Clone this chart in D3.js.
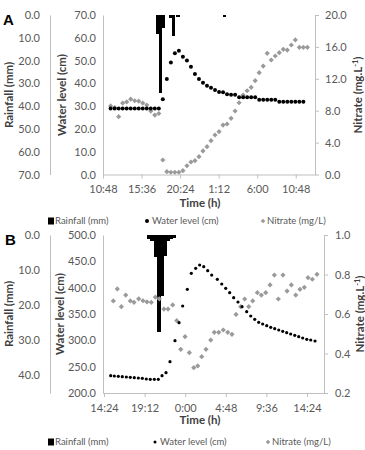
<!DOCTYPE html>
<html><head><meta charset="utf-8">
<script src="https://cdn.jsdelivr.net/npm/d3@7"></script>
<style>body{margin:0;background:#fff}svg{display:block}</style>
</head><body>
<svg id="c" width="365" height="450"></svg>
<script>
// ---------- Panel A data (time in hours from midnight of day 1) ----------
const aWaterTime = [11.75,12.25,12.75,13.25,13.75,14.25,14.75,15.25,15.75,16.25,16.75,17.25,17.75,
  18.25,18.75,19.25,19.75,20.25,20.75,21.25,21.75,22.25,22.75,23.25,23.75,24.25,24.75,25.25,25.75,
  26.25,26.75,27.25,27.75,28.25,28.75,29.25,29.75,30.25,30.75,31.25,31.75,32.25,32.75,33.25,33.75,
  34.25,34.75,35.25,35.75];
const aWaterLevel = [29.0,29.0,29.0,29.0,29.0,29.0,29.0,29.0,29.0,29.0,29.0,29.0,29.0,
  33.0,41.9,49.1,53.2,54.3,51.7,50.0,47.3,44.1,41.9,40.3,38.9,38.1,37.1,36.2,36.1,
  35.2,35.0,35.0,33.9,33.9,33.9,33.9,33.9,32.8,32.8,32.8,32.8,32.8,31.9,31.9,31.9,
  31.9,31.9,31.9,31.9];
const aNitrateTime = [11.75,12.25,12.75,13.25,13.75,14.25,14.75,15.25,15.75,16.25,16.75,17.25,17.75,
  18.25,18.75,19.25,19.75,20.25,20.75,21.25,21.75,22.25,22.75,23.25,23.75,24.25,24.75,25.25,25.75,
  26.25,26.75,27.25,27.75,28.25,28.75,29.25,29.75,30.25,30.75,31.25,31.75,32.25,32.75,33.25,33.75,
  34.25,34.75,35.25,35.75,36.25];
const aNitrate = [8.6,8.4,7.25,8.95,9.1,9.45,9.25,9.2,8.95,8.7,7.95,7.45,7.65,
  1.82,0.35,0.28,0.28,0.28,0.48,1.1,1.57,1.73,2.23,2.95,3.49,4.24,4.95,5.37,6.2,
  6.33,7.05,7.96,9.0,9.97,10.5,10.93,11.76,12.77,13.6,15.2,14.36,14.86,15.27,15.7,15.6,
  16.24,16.87,15.95,15.95,15.95];
const aRainTime = [17.59,17.97,18.35,19.27,19.59,20.14,25.91];
const aRain = [8.5,34.3,5.5,1.5,9.0,0.7,0.7];
const aTimeTicks = [10.8,15.6,20.4,25.2,30.0,34.8];
const aTimeLabels = ["10:48","15:36","20:24","1:12","6:00","10:48"];
const aRainTicks = [0,10,20,30,40,50,60,70];
const aWaterTicks = [0,10,20,30,40,50,60,70];
const aNitrateTicks = [0,4,8,12,16,20];

// ---------- Panel B data ----------
const bWaterTime = [15.19,15.62,16.09,16.56,17.04,17.51,17.98,18.46,18.93,19.40,19.87,20.35,20.82,
  21.26,21.73,22.20,22.79,23.27,23.70,24.25,24.72,25.24,25.71,26.19,26.66,27.13,
  27.80,28.32,28.79,29.26,29.73,30.24,30.72,31.27,31.75,32.22,32.69,33.16,33.64,34.11,
  34.58,35.06,35.53,36.00,36.47,36.95,37.42,37.89,38.37,38.84,39.35];
const bWaterLevel = [232.9,232.3,231.7,231.0,230.4,229.8,229.1,228.5,227.9,226.6,226.0,226.0,226.0,
  232.9,238.5,259.4,299.3,333.5,365.2,396.9,427.3,436.8,443.0,439.8,432.2,424.0,
  415.9,407.0,398.8,390.4,381.0,372.8,363.9,354.4,346.2,339.9,334.2,331.0,327.8,324.7,
  322.1,319.6,317.1,314.5,312.0,309.6,306.9,304.4,301.9,300.6,298.7];
const bNitrateTime = [15.50,15.97,16.45,16.97,17.51,17.95,18.50,19.01,19.48,19.99,20.47,20.94,
  21.49,21.97,22.52,23.00,23.47,23.98,24.49,25.01,25.48,25.95,26.46,27.02,
  27.44,27.96,28.50,29.03,29.53,30.01,30.56,31.03,31.51,31.98,32.53,33.00,33.52,34.03,
  34.54,35.01,35.56,36.04,36.55,37.07,37.57,38.08,38.52,39.03,39.58];
const bNitrate = [0.666,0.727,0.637,0.696,0.666,0.659,0.677,0.667,0.661,0.659,0.685,0.677,
  0.625,0.625,0.646,0.566,0.421,0.485,0.404,0.328,0.337,0.384,0.421,0.468,
  0.507,0.507,0.519,0.507,0.497,0.598,0.637,0.676,0.637,0.666,0.708,0.696,0.708,0.747,
  0.797,0.676,0.797,0.716,0.747,0.696,0.725,0.735,0.784,0.776,0.801];
const bRainTime = [19.72,20.10,20.48,20.86,21.23,21.61,21.99,22.37,22.72];
const bRain = [1.0,1.8,6.2,27.5,17.5,6.0,1.8,1.2,0.8];
const bTimeTicks = [14.4,19.2,24.0,28.8,33.6,38.4];
const bTimeLabels = ["14:24","19:12","0:00","4:48","9:36","14:24"];
const bRainTicks = [0,10,20,30,40];
const bWaterTicks = [200,250,300,350,400,450,500];
const bNitrateTicks = [0.2,0.4,0.6,0.8,1.0];

// ---------- drawing ----------
const svg = d3.select("#c");
const FONT = "Lato, 'Open Sans', sans-serif";
const AXIS = "#bfbfbf", TICKTXT = "#595959", TITLE = "#404040";
const GREY = "#9a9a9a";
const RAIN_BAR_HOURS = 0.38;

function styleAxis(sel){
  sel.select(".domain").attr("stroke", AXIS);
  sel.selectAll(".tick line").attr("stroke", AXIS);
  sel.selectAll("text").attr("fill", TICKTXT).attr("font-family", FONT).attr("font-size", 11);
}
function vTitle(x, y, txt){
  return svg.append("text").attr("transform", `translate(${x},${y}) rotate(-90)`)
    .attr("text-anchor","middle").attr("font-family",FONT).attr("font-weight","bold")
    .attr("font-size",11.5).attr("fill",TITLE).text(txt);
}
function diamond(r){ return `M0,${-r}L${r},0L0,${r}L${-r},0Z`; }

function drawPanel(p){
  const x = d3.scaleLinear().domain(p.xDomain).range([p.left, p.right]);
  const yW = d3.scaleLinear().domain(p.wDomain).range([p.bottom, p.top]);
  const yN = d3.scaleLinear().domain(p.nDomain).range([p.bottom, p.top]);
  const yR = d3.scaleLinear().domain(p.rDomain).range([p.top, p.bottom]);

  svg.append("g").attr("transform",`translate(${p.rainAxisX},0)`)
    .call(d3.axisLeft(yR).tickValues(p.rTicks).tickFormat(d3.format(".1f")).tickSize(0).tickPadding(10))
    .call(styleAxis);
  svg.append("g").attr("transform",`translate(${p.left},0)`)
    .call(d3.axisLeft(yW).tickValues(p.wTicks).tickFormat(d3.format(".1f")).tickSize(0).tickPadding(7))
    .call(styleAxis);
  svg.append("g").attr("transform",`translate(${p.right},0)`)
    .call(d3.axisRight(yN).tickValues(p.nTicks).tickFormat(d3.format(".1f")).tickSizeInner(4).tickSizeOuter(0).tickPadding(p.nPad))
    .call(styleAxis);
  svg.append("g").attr("transform",`translate(0,${p.bottom})`)
    .call(d3.axisBottom(x).tickValues(p.tTicks).tickFormat((d,i)=>p.tLabels[i]).tickSizeInner(4).tickSizeOuter(0).tickPadding(7))
    .call(styleAxis);

  // rainfall bars (hang from the top, reversed axis)
  const bw = x(p.xDomain[0] + RAIN_BAR_HOURS) - x(p.xDomain[0]);
  svg.append("g").attr("shape-rendering","crispEdges").selectAll("rect")
    .data(p.rainTime.map((t,i)=>({t, v:p.rain[i]})))
    .join("rect")
    .attr("x", d=>x(d.t)-bw/2-0.3).attr("width", bw+0.6)
    .attr("y", yR(0)).attr("height", d=>yR(d.v)-yR(0)).attr("fill","#000");

  svg.append("g").selectAll("path").data(p.nTime.map((t,i)=>({t, v:p.nitrate[i]})))
    .join("path").attr("d", diamond(p.dr))
    .attr("transform", d=>`translate(${x(d.t)},${yN(d.v)})`).attr("fill", GREY);

  svg.append("g").selectAll("circle").data(p.wTime.map((t,i)=>({t, v:p.water[i]})))
    .join("circle").attr("cx", d=>x(d.t)).attr("cy", d=>yW(d.v)).attr("r", p.cr).attr("fill","#000");

  vTitle(9, p.titleY, "Rainfall (mm)").attr("dy","0.35em");
  vTitle(p.wTitleX, p.titleY, "Water level (cm)").attr("dy","0.35em");
  const nt = svg.append("text").attr("transform",`translate(${p.nTitleX},${p.titleY}) rotate(-90)`)
    .attr("text-anchor","middle").attr("font-family",FONT).attr("font-weight","bold")
    .attr("font-size",11.5).attr("fill",TITLE).attr("dy","0.35em");
  nt.append("tspan").text("Nitrate (mg.L");
  nt.append("tspan").attr("dy",-4).attr("font-size",7.5).text("-1");
  nt.append("tspan").attr("dy",4).text(")");
  svg.append("text").attr("x",200).attr("y",p.timeTitleY).attr("text-anchor","middle")
    .attr("font-family",FONT).attr("font-weight","bold").attr("font-size",11.5).attr("fill",TITLE).text("Time (h)");

  svg.append("text").attr("x",p.letterX).attr("y",p.letterY).attr("font-family","'Liberation Sans', Arial, sans-serif")
    .attr("font-weight","bold").attr("font-size",15).attr("fill","#000").text(p.letter);

  const L = svg.append("g").attr("font-family",FONT).attr("font-size",9.5).attr("fill",TICKTXT);
  L.append("rect").attr("x",48).attr("y",p.legY-3.5).attr("width",6).attr("height",7).attr("fill","#000");
  L.append("text").attr("x",55).attr("y",p.legY).attr("dy","0.35em").text("Rainfall (mm)");
  L.append("circle").attr("cx",p.legDotX).attr("cy",p.legY).attr("r",p.legDotR).attr("fill","#000");
  L.append("text").attr("x",p.legDotX+5).attr("y",p.legY).attr("dy","0.35em").text("Water level (cm)");
  L.append("path").attr("d",diamond(2.3)).attr("transform",`translate(${p.legDiaX},${p.legY})`).attr("fill",GREY);
  L.append("text").attr("x",p.legDiaX+4).attr("y",p.legY).attr("dy","0.35em").text("Nitrate (mg/L)");
}

drawPanel({
  letter:"A", letterX:3, letterY:25,
  left:103, right:315, top:15, bottom:174.5, rainAxisX:50,
  xDomain:[10.8,37.2], wDomain:[0,70], nDomain:[0,20], rDomain:[0,70],
  tTicks:aTimeTicks, tLabels:aTimeLabels, rTicks:aRainTicks, wTicks:aWaterTicks, nTicks:aNitrateTicks,
  wTime:aWaterTime, water:aWaterLevel, nTime:aNitrateTime, nitrate:aNitrate, rainTime:aRainTime, rain:aRain,
  nPad:6, cr:2.0, dr:2.6, titleY:95, wTitleX:62, nTitleX:358, timeTitleY:207,
  legY:221, legDotX:147, legDotR:2, legDiaX:263
});
drawPanel({
  letter:"B", letterX:5, letterY:245,
  left:103, right:324, top:235, bottom:393, rainAxisX:50,
  xDomain:[14.28,40.41], wDomain:[200,500], nDomain:[0.2,1.0], rDomain:[0,45],
  tTicks:bTimeTicks, tLabels:bTimeLabels, rTicks:bRainTicks, wTicks:bWaterTicks, nTicks:bNitrateTicks,
  wTime:bWaterTime, water:bWaterLevel, nTime:bNitrateTime, nitrate:bNitrate, rainTime:bRainTime, rain:bRain,
  nPad:7, cr:1.6, dr:2.6, titleY:314, wTitleX:60, nTitleX:360, timeTitleY:424,
  legY:442, legDotX:155, legDotR:1.5, legDiaX:268
});
</script>
</body></html>
